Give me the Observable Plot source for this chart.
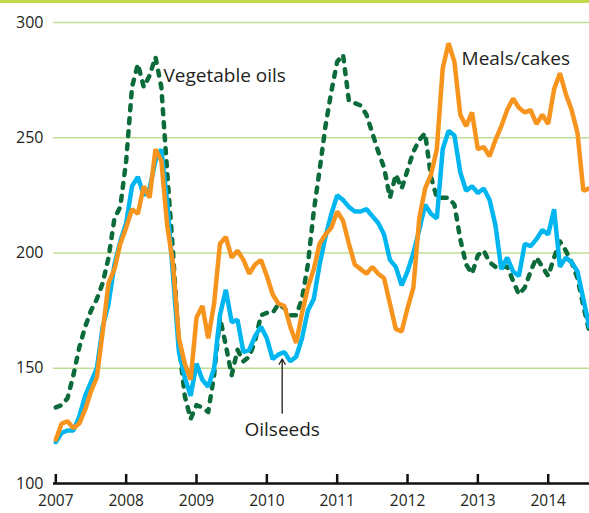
<!DOCTYPE html>
<html>
<head>
<meta charset="utf-8">
<script src="https://cdn.jsdelivr.net/npm/d3@7"></script>
<script src="https://cdn.jsdelivr.net/npm/@observablehq/plot@0.6"></script>
<style>
  body { margin: 0; background: #fff; }
  #wrap { position: relative; width: 589px; height: 513px; }
  #topbar { position: absolute; left: 0; top: 0; width: 589px; height: 3px; background: #c3d84a; }
</style>
</head>
<body>
<div id="wrap"><div id="topbar"></div></div>
<script>
// Monthly index values, January 2007 – August 2014
const startYear = 2007;

const vegetableOils = [
  133, 134, 137, 147, 159, 168, 175, 180, 187, 198, 215, 220,
  240, 272, 282, 272, 277, 285, 272, 235, 200, 160, 138, 128,
  134, 133, 131, 147, 172, 160, 147, 158, 153, 155, 162, 173,
  174, 174, 178, 176, 173, 173, 180, 195, 218, 236, 255, 270,
  283, 286, 266, 265, 264, 260, 252, 244, 237, 224, 234, 228,
  236, 244, 249, 252, 233, 224, 224, 224, 221, 206, 195, 191,
  199, 201, 196, 194, 194, 194, 188, 182, 185, 192, 198, 194,
  190, 198, 205, 201, 196, 189, 177, 166
];

const oilseeds = [
  118, 122, 123, 123, 129, 138, 144, 150, 168, 178, 195, 205,
  213, 229, 233, 225, 228, 240, 245, 222, 190, 157, 146, 138,
  152, 145, 142, 150, 173, 184, 170, 171, 157, 158, 164, 168,
  163, 154, 156, 157, 153, 155, 163, 175, 180, 195, 207, 217,
  225, 223, 220, 218, 218, 219, 216, 213, 208, 197, 194, 186,
  192, 200, 210, 221, 217, 215, 245, 253, 251, 235, 227, 229,
  226, 228, 223, 212, 193, 198, 192, 190, 204, 203, 206, 210,
  208, 219, 194, 198, 196, 192, 180, 168
];

const mealsCakes = [
  119, 126, 127, 124, 126, 132, 140, 146, 166, 187, 193, 204,
  211, 219, 217, 229, 224, 245, 240, 212, 195, 163, 152, 145,
  172, 177, 163, 178, 204, 207, 198, 201, 197, 191, 195, 197,
  190, 182, 178, 177, 168, 161, 174, 185, 193, 204, 208, 211,
  218, 214, 204, 195, 193, 191, 194, 191, 189, 178, 167, 166,
  176, 185, 215, 228, 234, 245, 280, 291, 283, 260, 255, 261,
  245, 246, 242, 249, 255, 262, 267, 263, 261, 262, 256, 260,
  256, 271, 278, 269, 262, 252, 227, 228
];

const yTickValues = [100, 150, 200, 250, 300];
const gridValues = [150, 200, 250, 300];
const xTickValues = [2007, 2008, 2009, 2010, 2011, 2012, 2013, 2014];

// Annotation labels (in data units)
const leftLabelNames = ["Vegetable oils", "Meals/cakes"];
const leftLabelX = [2008.531, 2012.768];
const leftLabelY = [276.7, 284.0];
const centerLabelNames = ["Oilseeds"];
const centerLabelX = [2010.218];
const centerLabelY = [123.4];
const arrowX = 2010.218, arrowFrom = 130.5, arrowTo = 154;

function toRows(values) {
  return values.map((v, i) => ({t: startYear + i / 12, value: v}));
}

const leftLabels = leftLabelNames.map((name, i) => ({name, x: leftLabelX[i], y: leftLabelY[i]}));
const centerLabels = centerLabelNames.map((name, i) => ({name, x: centerLabelX[i], y: centerLabelY[i]}));

const chart = Plot.plot({
  width: 589,
  height: 513,
  marginLeft: 53,
  marginRight: 0,
  marginTop: 22,
  marginBottom: 30,
  x: {domain: [2006.967, 2014.587]},
  y: {domain: [100, 300]},
  style: {fontFamily: "'Open Sans', sans-serif", fontSize: "16px", color: "#231f20", background: "transparent", overflow: "visible"},
  marks: [
    Plot.ruleY(gridValues, {stroke: "#bddf94", strokeWidth: 1.5}),
    Plot.axisY({ticks: yTickValues, tickSize: 0, tickPadding: 10, tickFormat: d => String(d), label: null, fontSize: 16}),
    Plot.axisX({ticks: xTickValues, tickSize: 0, tickPadding: 11, tickFormat: d => String(d), label: null, fontSize: 15.5}),
    Plot.line(toRows(vegetableOils), {x: "t", y: "value", stroke: "#0b6b3a", strokeWidth: 4.5, strokeDasharray: "5,8", strokeLinecap: "round", strokeLinejoin: "round"}),
    Plot.line(toRows(oilseeds), {x: "t", y: "value", stroke: "#00b6f0", strokeWidth: 4.5, strokeLinejoin: "miter"}),
    Plot.line(toRows(mealsCakes), {x: "t", y: "value", stroke: "#f7941d", strokeWidth: 4.5, strokeLinejoin: "miter"}),
    Plot.ruleY([100], {stroke: "#111", strokeWidth: 2.5}),
    Plot.ruleX(xTickValues, {x: d => d, y1: 100, y2: 103.9, stroke: "#111", strokeWidth: 2.5}),
    Plot.text(leftLabels, {x: "x", y: "y", text: "name", textAnchor: "start", fontSize: 19, fill: "#231f20", lineAnchor: "middle"}),
    Plot.text(centerLabels, {x: "x", y: "y", text: "name", textAnchor: "middle", fontSize: 19, fill: "#231f20", lineAnchor: "middle"}),
    Plot.arrow([{x: arrowX}], {x1: "x", x2: "x", y1: () => arrowFrom, y2: () => arrowTo, stroke: "#231f20", strokeWidth: 1.3, headLength: 7})
  ]
});

document.getElementById("wrap").appendChild(chart);
</script>
</body>
</html>
